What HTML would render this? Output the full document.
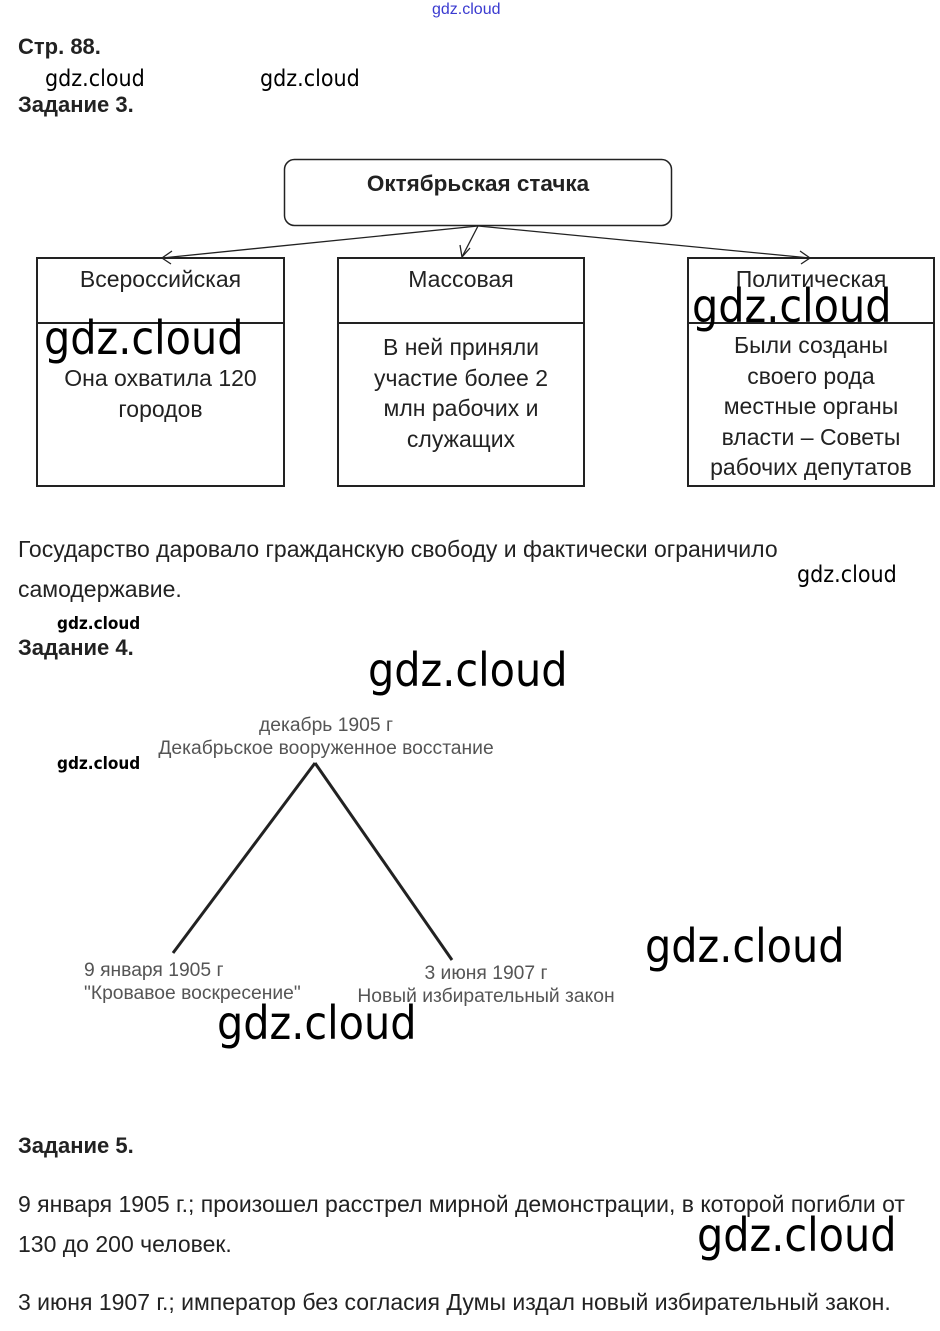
<!DOCTYPE html>
<html><head><meta charset="utf-8">
<style>
html,body{margin:0;padding:0;background:#fff;}
body{width:940px;height:1331px;position:relative;overflow:hidden;font-family:"Liberation Sans",Arial,sans-serif;color:#222;}
.a{position:absolute;white-space:nowrap;}
.b{font-weight:bold;font-size:22px;color:#222;}
.w{font-family:"DejaVu Sans Condensed","Liberation Sans",sans-serif;color:#000;}
.c{position:absolute;text-align:center;font-size:23px;line-height:30.5px;color:#222;white-space:nowrap;}
.g{position:absolute;text-align:center;font-size:19.3px;line-height:23px;color:#555;white-space:nowrap;}
.p{font-size:23px;color:#222;}
</style></head><body>
<div class="a" style="left:432px;top:1px;font-size:16px;color:#3a3ad0;">gdz.cloud</div>
<div class="a b" style="left:18px;top:34px;">Стр. 88.</div>
<div class="a w" style="left:45px;top:66px;font-size:23px;">gdz.cloud</div>
<div class="a w" style="left:260px;top:66px;font-size:23px;">gdz.cloud</div>
<div class="a b" style="left:18px;top:92px;">Задание 3.</div>

<svg class="a" style="left:0;top:0" width="940" height="1331">
<rect x="284.5" y="159.5" width="387" height="66" rx="10" fill="none" stroke="#222" stroke-width="1.5"/>
<g stroke="#222" stroke-width="1.3" fill="none">
<line x1="478" y1="226" x2="162" y2="258"/><polyline points="172,251 162,258 171,264"/>
<line x1="478" y1="226" x2="462" y2="257"/><polyline points="460,245 462,257 470,248"/>
<line x1="478" y1="226" x2="810" y2="258"/><polyline points="800,251 810,258 801,264"/>
</g>
<g stroke="#222" stroke-width="2" fill="none">
<rect x="37" y="258" width="247" height="228"/><line x1="37" y1="323" x2="284" y2="323"/>
<rect x="338" y="258" width="246" height="228"/><line x1="338" y1="323" x2="584" y2="323"/>
<rect x="688" y="258" width="246" height="228"/><line x1="688" y1="323" x2="934" y2="323"/>
</g>
<g stroke="#222" stroke-width="3">
<line x1="315" y1="763" x2="173" y2="953"/>
<line x1="315" y1="763" x2="452" y2="960"/>
</g>
</svg>

<div class="a" style="left:284px;top:171px;width:388px;text-align:center;font-weight:bold;font-size:22.5px;">Октябрьская стачка</div>

<div class="c" style="left:37px;top:264px;width:247px;">Всероссийская</div>
<div class="c" style="left:338px;top:264px;width:246px;">Массовая</div>
<div class="c" style="left:688px;top:264px;width:246px;">Политическая</div>

<div class="c" style="left:37px;top:363px;width:247px;">Она охватила 120<br>городов</div>
<div class="c" style="left:338px;top:332px;width:246px;">В ней приняли<br>участие более 2<br>млн рабочих и<br>служащих</div>
<div class="c" style="left:688px;top:330px;width:246px;">Были созданы<br>своего рода<br>местные органы<br>власти – Советы<br>рабочих депутатов</div>

<div class="a w" style="left:44px;top:311px;font-size:46px;">gdz.cloud</div>
<div class="a w" style="left:692px;top:279px;font-size:46px;">gdz.cloud</div>

<div class="a p" style="left:18px;top:536px;">Государство даровало гражданскую свободу и фактически ограничило</div>
<div class="a p" style="left:18px;top:576px;">самодержавие.</div>
<div class="a w" style="left:797px;top:562px;font-size:23px;">gdz.cloud</div>
<div class="a w" style="left:57px;top:614px;font-size:17px;font-weight:bold;">gdz.cloud</div>
<div class="a b" style="left:18px;top:635px;">Задание 4.</div>
<div class="a w" style="left:368px;top:643px;font-size:46px;">gdz.cloud</div>

<div class="g" style="left:156px;top:714px;width:340px;">декабрь 1905 г<br>Декабрьское вооруженное восстание</div>
<div class="a w" style="left:57px;top:754px;font-size:17px;font-weight:bold;">gdz.cloud</div>
<div class="g" style="left:84px;top:959px;text-align:left;">9 января 1905 г<br>"Кровавое воскресение"</div>
<div class="g" style="left:356px;top:962px;width:260px;">3 июня 1907 г<br>Новый избирательный закон</div>
<div class="a w" style="left:645px;top:919px;font-size:46px;">gdz.cloud</div>
<div class="a w" style="left:217px;top:996px;font-size:46px;">gdz.cloud</div>

<div class="a b" style="left:18px;top:1133px;">Задание 5.</div>
<div class="a p" style="left:18px;top:1191px;">9 января 1905 г.; произошел расстрел мирной демонстрации, в которой погибли от</div>
<div class="a p" style="left:18px;top:1231px;">130 до 200 человек.</div>
<div class="a w" style="left:697px;top:1208px;font-size:46px;">gdz.cloud</div>
<div class="a p" style="left:18px;top:1289px;">3 июня 1907 г.; император без согласия Думы издал новый избирательный закон.</div>
</body></html>
